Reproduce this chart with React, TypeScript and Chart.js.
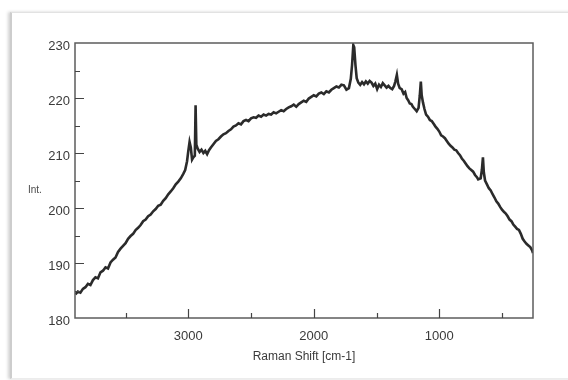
import { useEffect, useRef } from 'react';
import { Chart, registerables } from 'chart.js';

Chart.register(...registerables);

// Raman shift [cm-1] (x values)
const ramanShift = [
  3900, 3880, 3860, 3840, 3820, 3800, 3780, 3760, 3740, 3720, 3700, 3680, 3660, 3640, 3620, 3600,
  3580, 3560, 3540, 3520, 3500, 3480, 3460, 3440, 3420, 3400, 3380, 3360, 3340, 3320, 3300, 3280,
  3260, 3240, 3220, 3200, 3180, 3160, 3140, 3120, 3100, 3080, 3060, 3040, 3025, 3010, 3000, 2990,
  2980, 2970, 2960, 2948, 2942, 2936, 2925, 2910, 2895, 2880, 2865, 2850, 2835, 2820, 2800, 2780,
  2760, 2740, 2720, 2700, 2680, 2660, 2640, 2620, 2600, 2580, 2560, 2540, 2520, 2500, 2480, 2460,
  2440, 2420, 2400, 2380, 2360, 2340, 2320, 2300, 2280, 2260, 2240, 2220, 2200, 2180, 2160, 2140,
  2120, 2100, 2080, 2060, 2040, 2020, 2000, 1980, 1960, 1940, 1920, 1900, 1880, 1860, 1840, 1820,
  1800, 1780, 1760, 1740, 1720, 1705, 1695, 1685, 1678, 1668, 1658, 1645, 1630, 1615, 1600, 1585,
  1570, 1555, 1540, 1525, 1510, 1495, 1480, 1465, 1450, 1435, 1420, 1405, 1390, 1375, 1360, 1350,
  1338, 1328, 1315, 1300, 1285, 1272, 1260, 1248, 1235, 1222, 1210, 1195, 1180, 1165, 1155, 1147,
  1140, 1130, 1118, 1105, 1090, 1075, 1060, 1045, 1030, 1015, 1000, 985, 970, 955, 940, 925,
  910, 895, 880, 865, 850, 835, 820, 805, 790, 775, 760, 745, 730, 715, 700, 690,
  670, 660, 652, 645, 635, 620, 605, 590, 575, 560, 545, 530, 515, 500, 485, 470,
  455, 440, 425, 410, 395, 380, 365, 350, 335, 320, 305, 290, 275, 260, 253,
];

// Int. (y values)
const intensity = [
  184.3, 184.8, 184.6, 185.3, 185.6, 186.2, 186.0, 186.9, 187.4, 187.2, 188.3, 188.6, 189.2, 189.0, 190.1, 190.6,
  191.0, 192.0, 192.6, 193.1, 193.6, 194.4, 194.9, 195.3, 196.0, 196.4, 196.9, 197.6, 197.9, 198.5, 198.8, 199.4,
  199.8, 200.4, 200.6, 201.3, 201.8, 202.5, 203.0, 203.6, 204.3, 204.8, 205.4, 206.2, 206.9, 208.5, 210.4, 212.0,
  211.0, 208.8, 209.2, 209.5, 218.7, 211.5, 210.8, 210.2, 210.6, 210.0, 210.4, 209.8, 210.5, 211.0, 211.6, 212.2,
  212.5, 213.0, 213.4, 213.6, 214.0, 214.3, 214.8, 215.0, 215.4, 215.2, 215.8, 216.0, 215.8, 216.3, 216.5, 216.4,
  216.8, 216.6, 217.0, 216.8, 217.1, 217.0, 217.4, 217.2, 217.5, 217.8, 217.6, 218.0, 218.3, 218.5, 218.8, 218.4,
  218.9, 219.2, 219.5, 219.3, 219.9, 220.2, 220.5, 220.3, 220.8, 221.0, 220.7, 221.2, 221.0, 221.5, 221.8, 222.1,
  221.9, 222.4, 222.3, 221.5, 221.8, 223.5, 226.0, 229.6, 229.2, 226.0, 223.6, 222.8, 222.4, 222.9, 222.5, 223.0,
  222.6, 223.1, 222.8, 222.2, 222.6, 221.6, 222.4, 222.0, 222.7, 222.3, 221.9, 222.2, 221.8, 221.6, 222.2, 223.0,
  224.2, 222.6, 221.8, 221.6, 220.8, 221.1, 220.0, 219.6, 219.0, 218.9, 218.4, 218.0, 217.6, 218.2, 220.5, 223.0,
  220.5, 219.2, 218.0, 217.0, 216.6, 216.0, 215.8, 215.3, 214.8, 214.4, 213.9, 213.2, 213.0, 212.7, 212.2, 211.7,
  211.3, 211.0, 210.6, 210.5, 210.0, 209.6, 209.0, 208.6, 208.1, 207.6, 207.2, 206.9, 206.6, 206.0, 205.6, 205.2,
  205.4, 207.0, 209.2, 206.5, 205.0, 204.3, 203.6, 203.2, 202.5, 201.9, 201.2, 200.8, 200.2, 199.7, 199.3, 199.0,
  198.5, 197.9, 197.6, 197.0, 196.6, 196.2, 196.0, 195.3, 194.4, 193.9, 193.5, 193.2, 192.9, 192.3, 191.8,
];

// Axis ranges, tick positions and tick labels
const X_MIN = 253;
const X_MAX = 3903;
const Y_MIN = 180;
const Y_MAX = 230;
const xTickValues = [500, 1000, 1500, 2000, 2500, 3000, 3500];
const xTickLabels = [1000, 2000, 3000];
const yTickValues = [180, 185, 190, 195, 200, 205, 210, 215, 220, 225, 230];
const yTickLabels = [180, 190, 200, 210, 220, 230];

const FONT = '"Liberation Sans", Arial, sans-serif';

const framePlugin = {
  id: 'frameTicks',
  afterDatasetsDraw(chart: any) {
    const { ctx, chartArea: a, scales } = chart;
    ctx.save();
    ctx.strokeStyle = '#5c5c5c';
    ctx.lineWidth = 1.5;
    ctx.strokeRect(a.left, a.top, a.right - a.left, a.bottom - a.top);
    ctx.lineWidth = 1.2;
    ctx.strokeStyle = '#444';
    ctx.beginPath();
    scales.x.ticks.forEach((t: any) => {
      const px = Math.round(scales.x.getPixelForValue(t.value)) + 0.5;
      const len = xTickLabels.includes(t.value) ? 9 : 5;
      ctx.moveTo(px, a.bottom);
      ctx.lineTo(px, a.bottom - len);
    });
    scales.y.ticks.forEach((t: any) => {
      if (t.value <= Y_MIN || t.value >= Y_MAX) return;
      const py = Math.round(scales.y.getPixelForValue(t.value)) + 0.5;
      const len = yTickLabels.includes(t.value) ? 9 : 5;
      ctx.moveTo(a.left, py);
      ctx.lineTo(a.left + len, py);
    });
    ctx.stroke();
    ctx.font = '10px ' + FONT;
    ctx.fillStyle = '#4a4a4a';
    ctx.textAlign = 'left';
    ctx.textBaseline = 'middle';
    ctx.fillText('Int.', a.left - 47, (a.top + a.bottom) / 2 + 10);
    ctx.restore();
  },
};

export default function App() {
  const canvasRef = useRef<HTMLCanvasElement | null>(null);

  useEffect(() => {
    const canvas = canvasRef.current;
    if (!canvas) return;
    const points = ramanShift.map((x, i) => ({ x, y: intensity[i] }));
    const chart = new Chart(canvas, {
      type: 'line',
      data: {
        datasets: [
          {
            data: points,
            borderColor: '#2b2b2b',
            borderWidth: 2.6,
            pointRadius: 0,
            tension: 0,
            fill: false,
          },
        ],
      },
      options: {
        responsive: false,
        animation: false,
        events: [],
        layout: { padding: { left: 0, right: 35, top: 43, bottom: 12 } },
        plugins: { legend: { display: false }, tooltip: { enabled: false }, title: { display: false } },
        scales: {
          x: {
            type: 'linear',
            reverse: true,
            min: X_MIN,
            max: X_MAX,
            grid: { display: false, drawTicks: false },
            border: { display: false },
            afterBuildTicks: (s: any) => {
              s.ticks = xTickValues.map((value) => ({ value }));
            },
            ticks: {
              autoSkip: false,
              maxRotation: 0,
              padding: 11,
              color: '#3a3a3a',
              font: { family: FONT, size: 13 },
              callback: (v: any) => (xTickLabels.includes(Number(v)) ? String(v) : ''),
            },
            title: {
              display: true,
              text: 'Raman Shift [cm-1]',
              color: '#3a3a3a',
              font: { family: FONT, size: 12 },
              padding: { top: 0, bottom: 4 },
            },
            afterFit: (s: any) => {
              s.height = 50;
            },
          },
          y: {
            type: 'linear',
            min: Y_MIN,
            max: Y_MAX,
            grid: { display: false, drawTicks: false },
            border: { display: false },
            afterBuildTicks: (s: any) => {
              s.ticks = yTickValues.map((value) => ({ value }));
            },
            ticks: {
              autoSkip: false,
              padding: 5,
              labelOffset: 3,
              color: '#3a3a3a',
              font: { family: FONT, size: 13 },
              callback: (v: any) => (yTickLabels.includes(Number(v)) ? String(v) : ''),
            },
            afterFit: (s: any) => {
              s.width = 75;
            },
          },
        },
      },
      plugins: [framePlugin],
    });
    return () => chart.destroy();
  }, []);

  return (
    <div style={{ position: 'absolute', left: 0, top: 0, width: 568, height: 380, background: '#fff', overflow: 'hidden' }}>
      <div
        style={{
          position: 'absolute',
          left: 10,
          top: 12,
          width: 580,
          height: 367,
          borderTop: '1px solid #e2e2e2',
          borderBottom: '1px solid #ececec',
          borderLeft: '2px solid #cdcdcd',
          boxShadow: '-2px 0 3px rgba(0,0,0,0.18)',
          boxSizing: 'border-box',
        }}
      />
      <canvas ref={canvasRef} width={568} height={380} style={{ position: 'absolute', left: 0, top: 0, width: 568, height: 380 }} />
    </div>
  );
}
